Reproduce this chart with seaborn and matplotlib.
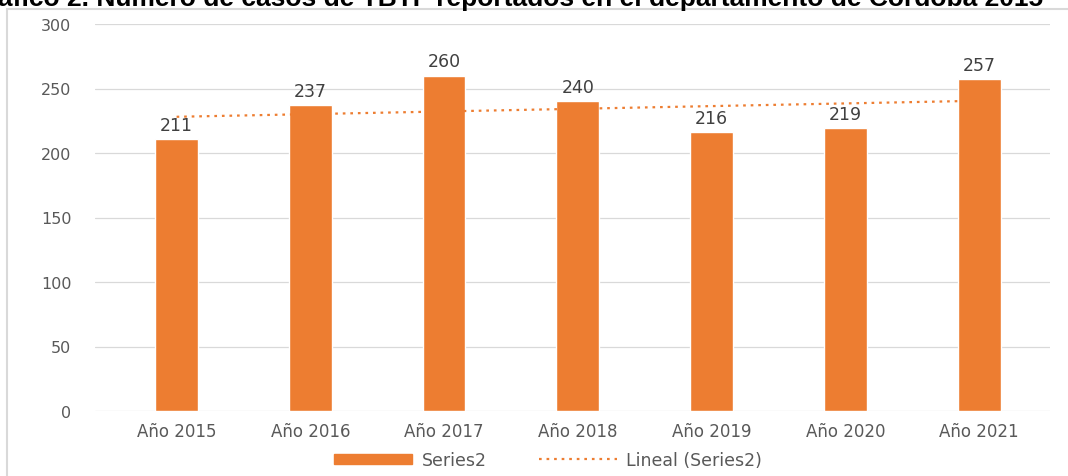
import numpy as np
import pandas as pd
import matplotlib
matplotlib.use("Agg")
import matplotlib.pyplot as plt
import seaborn as sns
from matplotlib.patches import Rectangle, Patch
from matplotlib.lines import Line2D

categories = ["Año 2015", "Año 2016", "Año 2017", "Año 2018", "Año 2019", "Año 2020", "Año 2021"]
values = [211, 237, 260, 240, 216, 219, 257]
yticks = [0, 50, 100, 150, 200, 250, 300]
title_text = "áfico 2. Número de casos de TBTF reportados en el departamento de Córdoba 2015"

sns.set_style("white")
plt.rcParams['font.family'] = ['DejaVu Sans']

ORANGE = "#ED7D31"
GRAY = "#595959"

df = pd.DataFrame({"cat": categories, "val": values})

fig = plt.figure(figsize=(10.68, 4.77), dpi=100)
ax = fig.add_axes([95/1068, 65/477, (1050-95)/1068, (412-25)/477])

sns.barplot(data=df, x="cat", y="val", color=ORANGE, width=0.32, ax=ax, saturation=1)

# linear trendline
xs = np.arange(len(values))
coef = np.polyfit(xs, values, 1)
ax.plot(xs, np.polyval(coef, xs), color=ORANGE, linestyle=(0, (1.2, 2.2)), linewidth=1.6)

for i, v in enumerate(values):
    ax.text(i, v + 4, str(v), ha="center", va="bottom", fontsize=12.5, color="#404040")

ax.set_ylim(0, 300)
ax.set_xlim(-0.61, 6.53)
ax.set_yticks(yticks)
ax.yaxis.grid(True, color="#D9D9D9", linewidth=0.9)
ax.set_axisbelow(True)
for s in ax.spines.values():
    s.set_visible(False)
ax.tick_params(axis="y", length=0, pad=17, labelsize=11.5, labelcolor=GRAY)
ax.tick_params(axis="x", length=0, pad=8, labelsize=12, labelcolor=GRAY)
ax.set_xlabel("")
ax.set_ylabel("")

# border box
fig.patches.append(Rectangle((7/1068, -0.01), 1.2, (477-10)/477 + 0.01, transform=fig.transFigure,
                             fill=False, edgecolor="#D9D9D9", linewidth=1.5))

# clipped title
fig.text(-2/1068, 1 - 6/477, title_text, ha="left", va="baseline", fontsize=19,
         fontweight="bold", family="Liberation Sans", color="black")

handles = [Patch(facecolor=ORANGE, edgecolor=ORANGE),
           Line2D([0], [0], color=ORANGE, linestyle=(0, (1.2, 2.2)), linewidth=1.6)]
leg = fig.legend(handles, ["Series2", "Lineal (Series2)"], loc="center", bbox_to_anchor=(548/1068, 1 - 461/477),
                 ncol=2, frameon=False, fontsize=12.5, handlelength=4.5, handleheight=0.55,
                 handletextpad=0.55, columnspacing=3.0, labelcolor=GRAY)

fig.savefig("out.png", dpi=100)
